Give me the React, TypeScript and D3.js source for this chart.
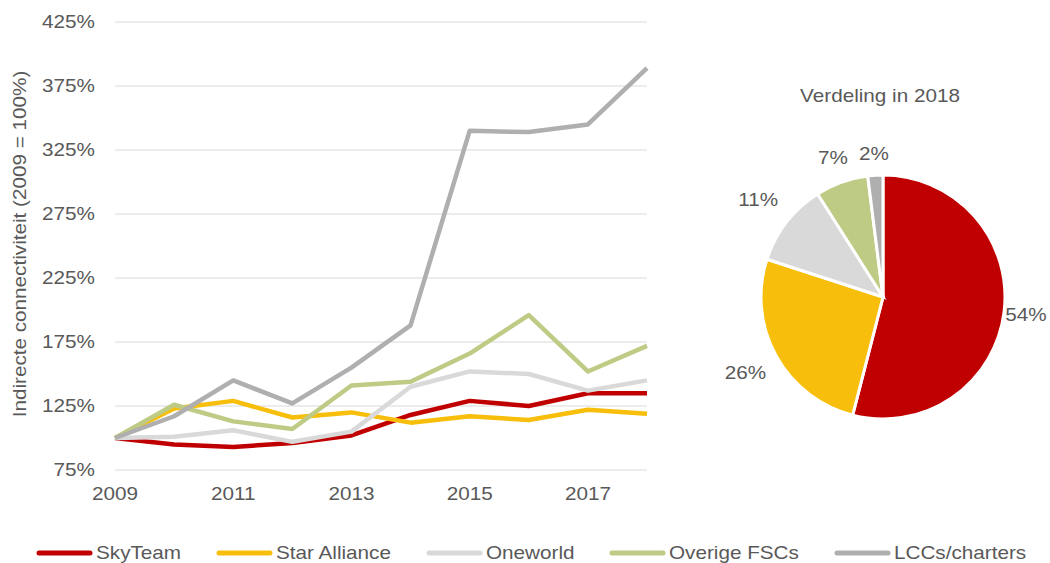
import React from 'react';
import * as d3 from 'd3';

const years = [2009, 2010, 2011, 2012, 2013, 2014, 2015, 2016, 2017, 2018];
const yearTicks = [2009, 2011, 2013, 2015, 2017];
const pctTicks = [75, 125, 175, 225, 275, 325, 375, 425];

const skyTeam = [100, 95, 93, 96, 102, 118, 129, 125, 135, 135];
const starAlliance = [100, 123, 129, 116, 120, 112, 117, 114, 122, 119];
const oneworld = [100, 101, 106, 97, 105, 140, 152, 150, 137, 145];
const overigeFSCs = [100, 126, 113, 107, 141, 144, 166, 196, 152, 172];
const lccs = [100, 117, 145, 127, 155, 188, 340, 339, 345, 389];

const seriesNames = ['SkyTeam', 'Star Alliance', 'Oneworld', 'Overige FSCs', 'LCCs/charters'];
const seriesColors = ['#C00000', '#F7BE0C', '#D9D9D9', '#BECB85', '#AFAFAF'];

const pieLabels = ['54%', '26%', '11%', '7%', '2%'];
const pieShares = [54, 26, 11, 7, 2];

const font = 'Liberation Sans, Arial, sans-serif';
const textColor = '#595959';
const stretch = 1.15; // the reference text is a bit wider than Arial

function T({ x, y, anchor = 'start', size = 18, rotate = 0, children }: any) {
  return (
    <text
      transform={`translate(${x},${y}) rotate(${rotate}) scale(${stretch},1)`}
      dy="0.35em"
      textAnchor={anchor}
      fontSize={size}
      fill={textColor}
    >
      {children}
    </text>
  );
}

export default function App() {
  const x = d3.scaleLinear().domain([2009, 2018]).range([115, 647]);
  const y = d3.scaleLinear().domain([75, 425]).range([470, 22]);

  const line = d3.line<number>()
    .x((d, i) => x(years[i]))
    .y(d => y(d));

  const allSeries = [skyTeam, starAlliance, oneworld, overigeFSCs, lccs];

  const pie = d3.pie<number>().sort(null).value(d => d);
  const arcs = pie(pieShares);
  const r = 122;
  const arc = d3.arc<d3.PieArcDatum<number>>().innerRadius(0).outerRadius(r);
  // label distance outside the rim, per slice (layout only)
  const labelGap = [22, 35, 36, 26, 22];

  const legendX = [37, 217, 427, 610, 835];

  return (
    <svg width={1050} height={563} style={{ position: 'absolute', left: 0, top: 0 }} fontFamily={font}>
      <rect width={1050} height={563} fill="#fff" />
      {pctTicks.map(t => (
        <g key={t}>
          <line x1={115} x2={647} y1={y(t)} y2={y(t)} stroke="#D9D9D9" strokeWidth={1} />
          <T x={95} y={y(t)} anchor="end">{t}%</T>
        </g>
      ))}
      {yearTicks.map(t => (
        <T key={t} x={x(t)} y={494} anchor="middle">{t}</T>
      ))}
      <T x={20} y={244} anchor="middle" rotate={-90}>Indirecte connectiviteit (2009 = 100%)</T>
      {allSeries.map((s, i) => (
        <path key={i} d={line(s) || ''} fill="none" stroke={seriesColors[i]} strokeWidth={4.5} strokeLinejoin="round" />
      ))}

      <T x={880} y={96} anchor="middle">Verdeling in 2018</T>
      <g transform="translate(883,297)">
        {arcs.map((a, i) => (
          <path key={i} d={arc(a) || ''} fill={seriesColors[i]} stroke="#fff" strokeWidth={3} />
        ))}
        {arcs.map((a, i) => {
          const la = d3.arc<d3.PieArcDatum<number>>().innerRadius(r + labelGap[i]).outerRadius(r + labelGap[i]);
          const [lx, ly] = la.centroid(a);
          return <T key={i} x={lx} y={ly} anchor="middle">{pieLabels[i]}</T>;
        })}
      </g>

      {seriesNames.map((n, i) => (
        <g key={n}>
          <line x1={legendX[i] + 2} x2={legendX[i] + 53} y1={553} y2={553} stroke={seriesColors[i]} strokeWidth={5} strokeLinecap="round" />
          <T x={legendX[i] + 59} y={553}>{n}</T>
        </g>
      ))}
    </svg>
  );
}
